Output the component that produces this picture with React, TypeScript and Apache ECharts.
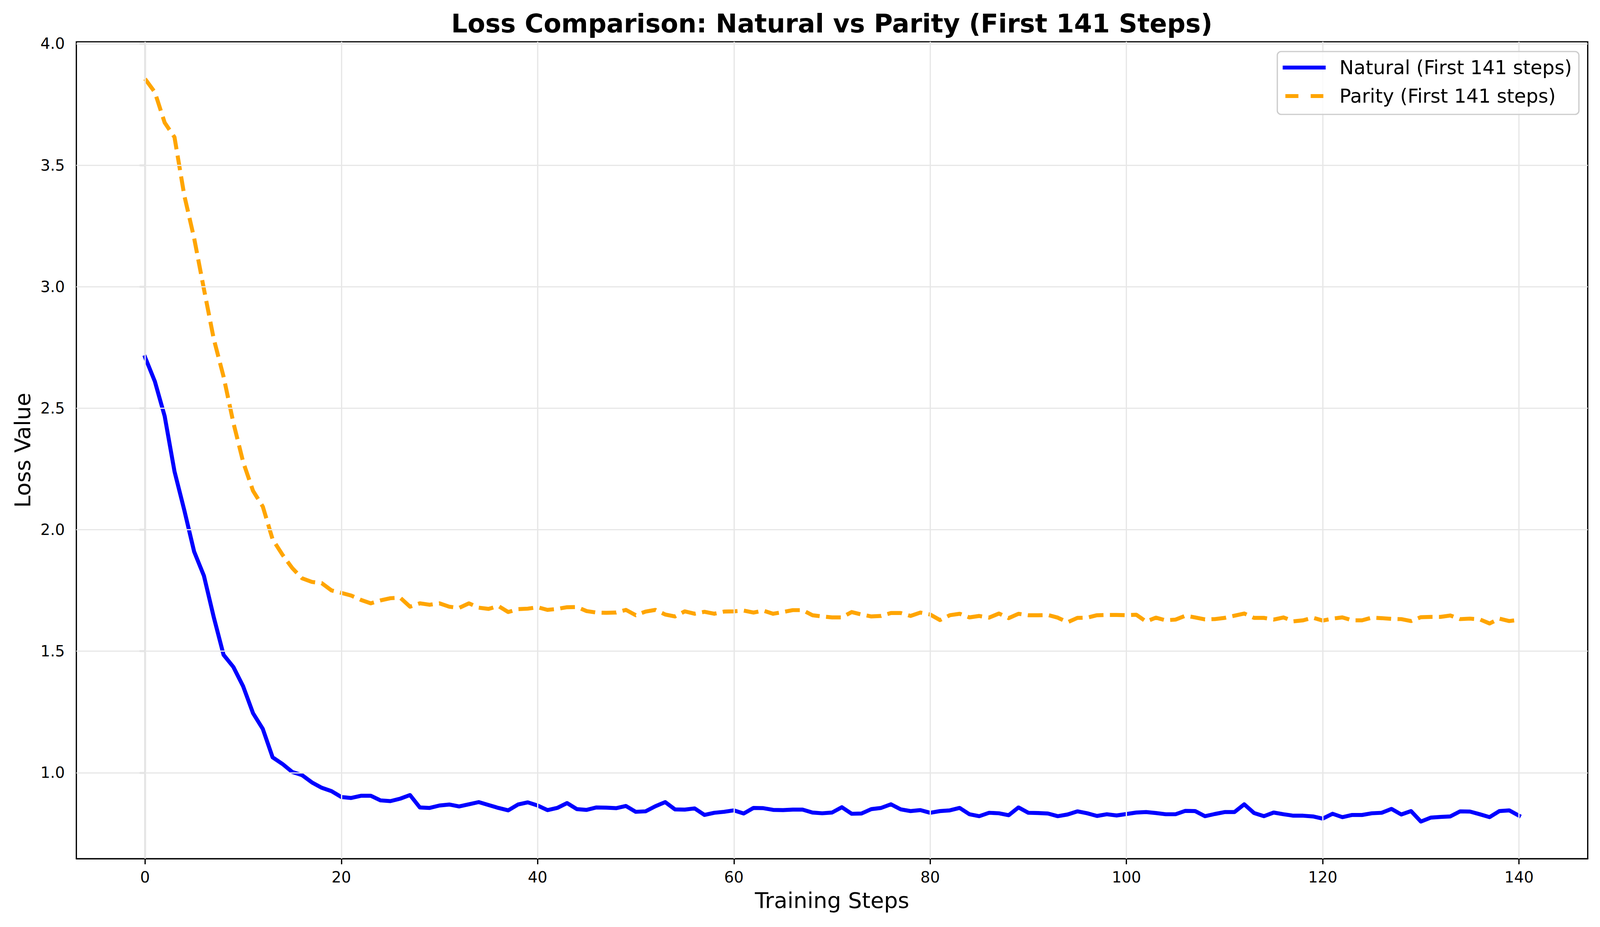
import React, { useEffect, useRef } from "react";
import * as echarts from "echarts";

const natural: number[] = [
  2.71, 2.61, 2.467, 2.24, 2.08, 1.91, 1.81, 1.64, 1.485, 1.435,
  1.355, 1.245, 1.18, 1.063, 1.036, 1.003, 0.99, 0.96, 0.938, 0.924,
  0.9, 0.896, 0.905, 0.905, 0.886, 0.883, 0.893, 0.908, 0.857, 0.855,
  0.865, 0.869, 0.861, 0.87, 0.879, 0.867, 0.855, 0.845, 0.869, 0.878,
  0.865, 0.846, 0.855, 0.875, 0.85, 0.847, 0.857, 0.856, 0.854, 0.863,
  0.839, 0.841, 0.862, 0.879, 0.849, 0.848, 0.853, 0.826, 0.835, 0.839,
  0.845, 0.832, 0.855, 0.854, 0.847, 0.846, 0.848, 0.848, 0.836, 0.833,
  0.836, 0.858, 0.831, 0.832, 0.85, 0.855, 0.87, 0.849, 0.842, 0.846,
  0.835, 0.842, 0.845, 0.855, 0.829, 0.821, 0.835, 0.833, 0.825, 0.857,
  0.835, 0.834, 0.832, 0.821, 0.828, 0.841, 0.833, 0.822, 0.829, 0.824,
  0.83, 0.836, 0.838, 0.834, 0.829, 0.829, 0.843, 0.842, 0.821, 0.83,
  0.838, 0.838, 0.87, 0.834, 0.821, 0.836, 0.829, 0.823, 0.823, 0.82,
  0.811, 0.831, 0.817, 0.826, 0.826, 0.833, 0.835, 0.851, 0.828, 0.842,
  0.799, 0.815, 0.818, 0.82, 0.841, 0.84, 0.829, 0.817, 0.842, 0.845,
  0.823,
];

const parity: number[] = [
  3.855, 3.8, 3.675, 3.615, 3.375, 3.2, 2.99, 2.785, 2.63, 2.44,
  2.278, 2.16, 2.095, 1.96, 1.897, 1.842, 1.8, 1.785, 1.78, 1.75,
  1.74, 1.729, 1.711, 1.697, 1.709, 1.718, 1.72, 1.683, 1.697, 1.691,
  1.697, 1.683, 1.678, 1.697, 1.679, 1.674, 1.686, 1.661, 1.673, 1.675,
  1.681, 1.67, 1.674, 1.681, 1.682, 1.665, 1.659, 1.658, 1.659, 1.67,
  1.648, 1.663, 1.67, 1.651, 1.643, 1.664, 1.654, 1.662, 1.654, 1.663,
  1.664, 1.667, 1.659, 1.667, 1.654, 1.661, 1.669, 1.669, 1.648, 1.643,
  1.639, 1.639, 1.661, 1.651, 1.643, 1.645, 1.657, 1.657, 1.645, 1.659,
  1.651, 1.628, 1.648, 1.654, 1.639, 1.645, 1.638, 1.655, 1.636, 1.654,
  1.648, 1.648, 1.649, 1.638, 1.619, 1.637, 1.638, 1.648, 1.649, 1.649,
  1.648, 1.65, 1.622, 1.638, 1.627, 1.63, 1.646, 1.639, 1.631, 1.632,
  1.637, 1.646, 1.655, 1.637, 1.637, 1.63, 1.639, 1.623, 1.627, 1.638,
  1.626, 1.634, 1.639, 1.627, 1.627, 1.638, 1.636, 1.633, 1.632, 1.624,
  1.64, 1.641, 1.641, 1.647, 1.632, 1.634, 1.631, 1.614, 1.634, 1.624,
  1.629,
];

const xTicks: number[] = [0, 20, 40, 60, 80, 100, 120, 140];
const yTicks: number[] = [1.0, 1.5, 2.0, 2.5, 3.0, 3.5, 4.0];

const titleText = "Loss Comparison: Natural vs Parity (First 141 Steps)";
const naturalLabel = "Natural (First 141 steps)";
const parityLabel = "Parity (First 141 steps)";
const xName = "Training Steps";
const yName = "Loss Value";

const FONT = "DejaVu Sans";
const BASE_W = 4170;
const BASE_H = 2374;

export default function App() {
  const ref = useRef<HTMLDivElement>(null);

  useEffect(() => {
    document.body.style.margin = "0";
    document.documentElement.style.overflow = "hidden";
    document.body.style.overflow = "hidden";
    if (!ref.current) return;
    const el = ref.current;
    const w = el.clientWidth || BASE_W;
    const h = el.clientHeight || BASE_H;
    const sx = w / BASE_W;
    const sy = h / BASE_H;
    const s = Math.min(sx, sy);
    const X = (v: number) => v * sx;
    const Y = (v: number) => v * sy;
    const S = (v: number) => v * s;

    const chart = echarts.init(el, undefined, { renderer: "svg", width: w, height: h });

    const all = natural.concat(parity);
    const dMin = Math.min(...all);
    const dMax = Math.max(...all);
    const yPad = (dMax - dMin) * 0.05;
    const n = natural.length - 1;
    const xPad = n * 0.05;

    const gridColor = "#e7e7e7";
    const lw = S(10.4);
    const thin = S(3.3);

    chart.setOption({
      animation: false,
      backgroundColor: "#ffffff",
      textStyle: { fontFamily: FONT },
      grid: {
        left: X(199),
        top: Y(107),
        width: X(3939),
        height: Y(2092),
        show: true,
        borderColor: "#000000",
        borderWidth: thin,
        backgroundColor: "transparent",
        containLabel: false,
      },
      xAxis: {
        type: "value",
        min: -xPad,
        max: n + xPad,
        axisLine: { show: true, lineStyle: { color: "#000", width: thin } },
        axisTick: {
          show: true,
          customValues: xTicks,
          length: S(14.6),
          lineStyle: { color: "#000", width: thin },
        },
        axisLabel: {
          customValues: xTicks,
          fontSize: S(40),
          color: "#000",
          fontFamily: FONT,
          margin: S(28),
          formatter: (v: number) => String(Math.round(v)),
        },
        splitLine: { show: false },
        name: xName,
        nameLocation: "middle",
        nameGap: S(80),
        nameTextStyle: { fontSize: S(57), color: "#000", fontFamily: FONT },
      },
      yAxis: {
        type: "value",
        min: dMin - yPad,
        max: dMax + yPad,
        axisLine: { show: true, lineStyle: { color: "#000", width: thin } },
        axisTick: {
          show: true,
          customValues: yTicks,
          length: S(14.6),
          lineStyle: { color: "#000", width: thin },
        },
        axisLabel: {
          customValues: yTicks,
          fontSize: S(40),
          color: "#000",
          fontFamily: FONT,
          margin: S(30),
          formatter: (v: number) => v.toFixed(1),
        },
        splitLine: { show: false },
        name: yName,
        nameLocation: "middle",
        nameRotate: 90,
        nameGap: S(112),
        nameTextStyle: { fontSize: S(57), color: "#000", fontFamily: FONT },
      },
      series: [
        {
          name: "grid",
          type: "line",
          data: [],
          z: 1,
          silent: true,
          markLine: {
            silent: true,
            symbol: ["none", "none"],
            label: { show: false },
            lineStyle: { color: gridColor, width: thin, type: "solid" },
            data: [
              ...xTicks.map((v) => ({ xAxis: v })),
              ...yTicks.map((v) => ({ yAxis: v })),
            ],
          },
        },
        {
          name: naturalLabel,
          type: "line",
          data: natural.map((v, i) => [i, v]),
          showSymbol: false,
          z: 3,
          lineStyle: { color: "#0000ff", width: lw, join: "round", cap: "square" },
        },
        {
          name: parityLabel,
          type: "line",
          data: parity.map((v, i) => [i, v]),
          showSymbol: false,
          z: 4,
          lineStyle: {
            color: "#ffa500",
            width: lw,
            type: [S(38.5), S(16.7)],
            join: "round",
            cap: "butt",
          },
        },
      ],
      graphic: [
        {
          type: "text",
          x: X(2168),
          y: Y(60),
          z: 10,
          style: {
            text: titleText,
            fontSize: S(67),
            fontWeight: "bold",
            fontFamily: FONT,
            fill: "#000",
            textAlign: "center",
            textVerticalAlign: "middle",
          },
        },
        {
          type: "rect",
          z: 20,
          shape: { x: X(3329), y: Y(132), width: X(786), height: Y(161), r: S(10) },
          style: { fill: "rgba(255,255,255,0.8)", stroke: "#cccccc", lineWidth: thin },
        },
        {
          type: "line",
          z: 21,
          shape: { x1: X(3343), y1: Y(173), x2: X(3455), y2: Y(173) },
          style: { stroke: "#0000ff", lineWidth: lw },
        },
        {
          type: "line",
          z: 21,
          shape: { x1: X(3350), y1: Y(246), x2: X(3384), y2: Y(246) },
          style: { stroke: "#ffa500", lineWidth: lw },
        },
        {
          type: "line",
          z: 21,
          shape: { x1: X(3416), y1: Y(246), x2: X(3449), y2: Y(246) },
          style: { stroke: "#ffa500", lineWidth: lw },
        },
        {
          type: "text",
          z: 21,
          x: X(3491),
          y: Y(173),
          style: {
            text: naturalLabel,
            fontSize: S(50),
            fontFamily: FONT,
            fill: "#000",
            textAlign: "left",
            textVerticalAlign: "middle",
          },
        },
        {
          type: "text",
          z: 21,
          x: X(3491),
          y: Y(246),
          style: {
            text: parityLabel,
            fontSize: S(50),
            fontFamily: FONT,
            fill: "#000",
            textAlign: "left",
            textVerticalAlign: "middle",
          },
        },
      ],
    });

    return () => {
      chart.dispose();
    };
  }, []);

  return <div ref={ref} style={{ width: "100vw", height: "100vh", overflow: "hidden" }} />;
}
